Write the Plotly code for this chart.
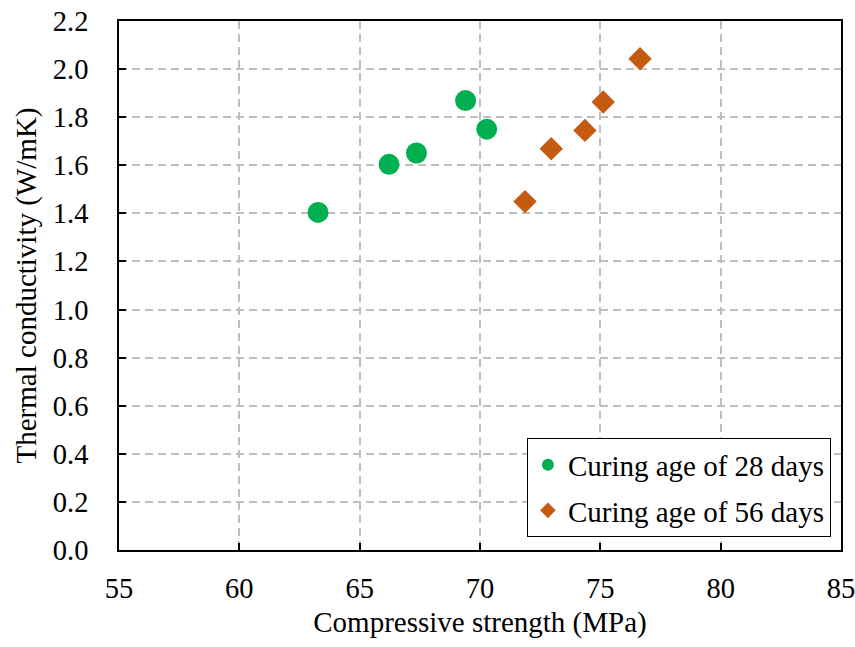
import plotly.graph_objects as go

# Data
strength_28 = [63.27, 66.22, 67.36, 69.40, 70.28]
conductivity_28 = [1.404, 1.604, 1.651, 1.869, 1.750]
strength_56 = [71.87, 72.96, 74.36, 75.12, 76.65]
conductivity_56 = [1.449, 1.669, 1.745, 1.863, 2.043]

x_ticks = [55, 60, 65, 70, 75, 80, 85]
y_ticks = [0.0, 0.2, 0.4, 0.6, 0.8, 1.0, 1.2, 1.4, 1.6, 1.8, 2.0, 2.2]

FONT = "Liberation Serif"
FS_TICK = 28.5
FS_TEXT = 29

fig = go.Figure()
fig.add_trace(go.Scatter(
    x=strength_28, y=conductivity_28, mode="markers",
    name="Curing age of 28 days", legendgroup="g28",
    marker=dict(symbol="circle", size=21, color="#00B050", line=dict(width=0)),
))
fig.add_trace(go.Scatter(
    x=strength_56, y=conductivity_56, mode="markers",
    name="Curing age of 56 days", legendgroup="g56",
    marker=dict(symbol="diamond", size=18, color="#C55A11", line=dict(width=0)),
))

axis_common = dict(
    showline=True, linecolor="black", linewidth=2, mirror=True,
    ticks="inside", ticklen=7, tickwidth=2, tickcolor="black",
    showgrid=True, gridcolor="#BFBFBF", gridwidth=1.5, griddash="8px,5px",
    zeroline=False, automargin=False, ticklabeloverflow="allow",
    tickfont=dict(family=FONT, size=FS_TICK, color="black"),
    title_font=dict(family=FONT, size=FS_TEXT, color="black"),
)

fig.update_xaxes(
    range=[55, 85], tickvals=x_ticks, ticktext=[str(v) for v in x_ticks],
    title_text="Compressive strength (MPa)", title_standoff=8,
    ticklabelstandoff=12,
    **axis_common,
)
fig.update_yaxes(
    range=[0, 2.2], tickvals=y_ticks,
    ticktext=[f"{v:.1f}\u00a0\u2006" for v in y_ticks],
    title_text="Thermal conductivity (W/mK)", title_standoff=8,
    ticklabelstandoff=11,
    **axis_common,
)

fig.update_layout(
    width=855, height=647,
    margin=dict(l=119, r=14, t=21, b=97),
    paper_bgcolor="white", plot_bgcolor="white",
    font=dict(family=FONT, size=FS_TEXT, color="black"),
    showlegend=True,
    legend=dict(
        x=0.986, y=0.024, xanchor="right", yanchor="bottom",
        bgcolor="white", bordercolor="black", borderwidth=1,
        font=dict(family=FONT, size=FS_TEXT, color="black"),
        itemsizing="constant", tracegroupgap=5,
    ),
)

fig.write_html("out.html")
